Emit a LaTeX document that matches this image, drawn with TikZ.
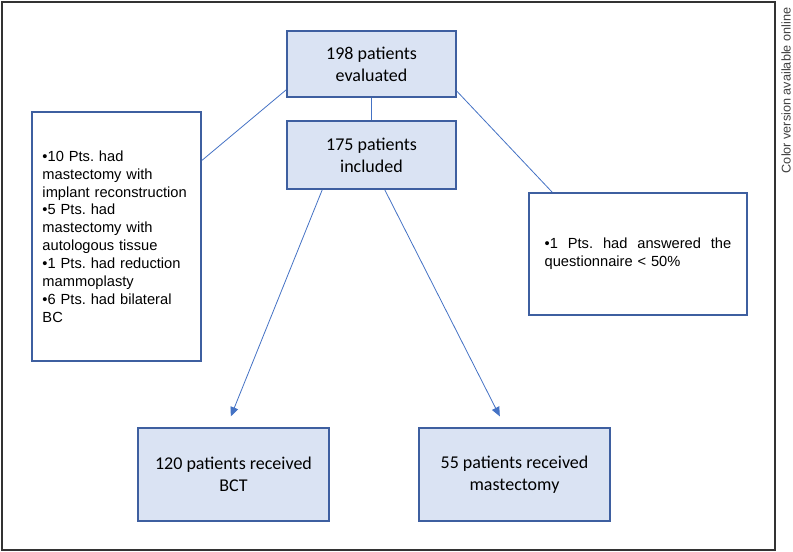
\documentclass[tikz,border=0pt]{standalone}
\usepackage{fontspec}
\setmainfont{Carlito}
\newfontfamily\arialfont{Liberation Sans}
\usetikzlibrary{arrows.meta}
\definecolor{boxfill}{HTML}{DAE3F3}
\definecolor{boxline}{RGB}{62,95,160}
\definecolor{linkline}{RGB}{68,114,196}
\frenchspacing

\begin{document}
\begin{tikzpicture}[x=0.75pt, y=-0.75pt,
  stepbox/.style={draw=boxline, line width=1.4pt, fill=boxfill, minimum width=126.75pt, align=center, font=\fontsize{13.5}{16.5}\selectfont, inner sep=0pt},
  notebox/.style={draw=boxline, line width=1.4pt, fill=white, inner sep=0pt, font=\arialfont\fontsize{11}{13.4}\selectfont},
  link/.style={draw=linkline, line width=0.6pt},
  ]

% Page and outer frame
\useasboundingbox (0,0) rectangle (793,552);
\draw[line width=1.2pt, black!80] (2,2) rectangle (775,550);
\node[rotate=90, anchor=east, text=black!75, font=\arialfont\fontsize{9.5}{11}\selectfont] (note) at (786,3) {Color version available online};

% Main boxes
\node[stepbox, minimum height=49.5pt] (eval) at (371.5,64) {198 patients\\evaluated};
\node[stepbox, minimum height=51pt] (incl) at (371.5,155) {175 patients\\included};
\node[stepbox, minimum width=143.25pt, minimum height=69.75pt] (bct) at (233.5,474.5) {120 patients received\\BCT};
\node[stepbox, minimum width=143.25pt, minimum height=69.75pt] (mast) at (514.5,474.5) {55 patients received\\mastectomy};

% Exclusion boxes
\node[notebox, minimum width=126.75pt, minimum height=186.75pt, text width=111pt, align=left] (exclA) at (116.5,236.5)
  {•10 Pts. had\\mastectomy with\\implant reconstruction\\•5 Pts. had\\mastectomy with\\autologous tissue\\•1 Pts. had reduction\\mammoplasty\\•6 Pts. had bilateral\\BC};
\node[notebox, minimum width=163.5pt, minimum height=91.5pt, text width=140pt, align=left] (exclB) at (638,254)
  {\makebox[140pt][l]{•1\hfill Pts.\hfill had\hfill answered\hfill the}\\questionnaire < 50\%};

% Connectors
\draw[link] (eval) -- (incl);
\draw[link] ([yshift=-37pt]exclA.north east) -- ([yshift=6pt]eval.south west);
\draw[link] ([yshift=5pt]eval.south east) -- ([xshift=18pt]exclB.north west);

% Arrows to the treatment groups
\draw[link, -{Triangle[length=7pt, width=6pt]}] ([xshift=-37pt]incl.south) -- ([xshift=-2pt, yshift=8pt]bct.north);
\draw[link, -{Triangle[length=7pt, width=6pt]}] ([xshift=10pt]incl.south) -- ([xshift=-11pt, yshift=8pt]mast.north);

\end{tikzpicture}
\end{document}
